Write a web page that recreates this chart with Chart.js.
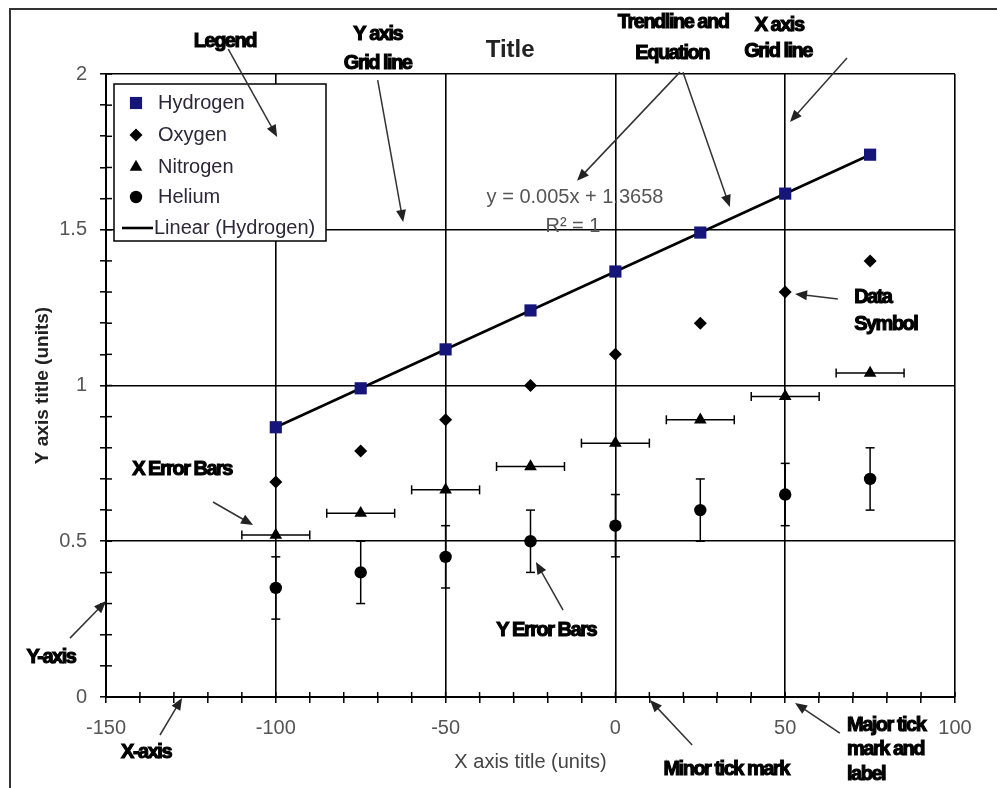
<!DOCTYPE html>
<html lang="en">
<head>
  <meta charset="UTF-8">
  <title>Anatomy of a Chart</title>
  <script src="https://cdn.jsdelivr.net/npm/chart.js"></script>
  <style>
    body { margin: 0; background: #fff; }
    #wrap { width: 997px; height: 788px; }
  </style>
</head>
<body>

<div id="wrap">
  <canvas id="anatomy" width="997" height="788"></canvas>
</div>

<script>
  // values
  const xValues = [-100, -75, -50, -25, 0, 25, 50, 75];
  const hydrogen = [0.866, 0.991, 1.116, 1.241, 1.366, 1.491, 1.616, 1.741];
  const oxygen = [0.69, 0.79, 0.89, 1.0, 1.1, 1.2, 1.3, 1.4];
  const nitrogen = [0.52, 0.59, 0.665, 0.74, 0.815, 0.89, 0.965, 1.04];
  const helium = [0.35, 0.4, 0.45, 0.5, 0.55, 0.6, 0.65, 0.7];
  const nitrogenXErr = [10, 10, 10, 10, 10, 10, 10, 10];
  const heliumYErr = [0.1, 0.1, 0.1, 0.1, 0.1, 0.1, 0.1, 0.1];
  const trendX = [-100, 75];
  const trendY = [0.8658, 1.7408];
  const xTickLabels = [-150, -100, -50, 0, 50, 100];
  const yTickLabels = [0, 0.5, 1, 1.5, 2];

  const toPoints = (xs, ys) => xs.map((x, i) => ({x: x, y: ys[i]}));
  const isLabelled = (list, v) => list.some(t => Math.abs(t - v) < 1e-6);

  // callouts, placed in data units so they follow the scales
  const notes = [
    {lines: [['Legend', -115, 2.105]], from: [-114, 2.08], to: [-99.6, 1.798]},
    {lines: [['Y axis', -70, 2.128], ['Grid line', -70, 2.035]], from: [-70, 1.98], to: [-62.5, 1.525]},
    {lines: [['Trendline and', 17, 2.164], ['Equation', 16.7, 2.067]], from: [19, 2.006], to: [-11.3, 1.657]},
    {lines: [], from: [19.9, 2.006], to: [33.7, 1.573]},
    {lines: [['X axis', 48.2, 2.157], ['Grid line', 47.9, 2.071]], from: [68.2, 2.051], to: [51.4, 1.846]},
    {lines: [['Data', 70.3, 1.281], ['Symbol', 70.3, 1.197]], align: 'left', from: [65.5, 1.278], to: [52.9, 1.294]},
    {lines: [['X Error Bars', -127.6, 0.729]], from: [-118.5, 0.626], to: [-106.7, 0.552]},
    {lines: [['Y Error Bars', -20.4, 0.215]], from: [-15.4, 0.279], to: [-23.4, 0.433]},
    {lines: [['Y-axis', -166.2, 0.128]], from: [-160.6, 0.189], to: [-150, 0.308]},
    {lines: [['X-axis', -138.2, -0.177]], from: [-134.1, -0.122], to: [-127.6, -0.003]},
    {lines: [['Minor tick mark', 32.6, -0.234]], from: [22.6, -0.154], to: [10.2, -0.01]},
    {lines: [['Major tick', 68.2, -0.09], ['mark and', 68.2, -0.17], ['label', 68.2, -0.25]], align: 'left',
     from: [66.1, -0.116], to: [52.9, -0.019]}
  ];

  const FONT = '"Liberation Sans", Arial, sans-serif';
  Chart.defaults.font.family = FONT;

  function arrow(ctx, x1, y1, x2, y2) {
    const ang = Math.atan2(y2 - y1, x2 - x1);
    const len = 12, half = 5;
    ctx.beginPath();
    ctx.moveTo(x1, y1);
    ctx.lineTo(x2 - Math.cos(ang) * len * 0.8, y2 - Math.sin(ang) * len * 0.8);
    ctx.stroke();
    ctx.beginPath();
    ctx.moveTo(x2, y2);
    ctx.lineTo(x2 - Math.cos(ang) * len - Math.sin(ang) * half, y2 - Math.sin(ang) * len + Math.cos(ang) * half);
    ctx.lineTo(x2 - Math.cos(ang) * len + Math.sin(ang) * half, y2 - Math.sin(ang) * len - Math.cos(ang) * half);
    ctx.closePath();
    ctx.fill();
  }

  const errorBars = {
    id: 'errorBars',
    beforeDatasetsDraw(chart) {
      const {ctx, scales: {x, y}} = chart;
      ctx.save();
      ctx.strokeStyle = '#000';
      ctx.lineWidth = 1.5;
      const seg = (a, b, c, d) => { ctx.beginPath(); ctx.moveTo(a, b); ctx.lineTo(c, d); ctx.stroke(); };
      chart.data.datasets.forEach(ds => {
        ds.data.forEach((p, i) => {
          const px = x.getPixelForValue(p.x), py = y.getPixelForValue(p.y);
          if (ds.xErr) {
            const a = x.getPixelForValue(p.x - ds.xErr[i]), b = x.getPixelForValue(p.x + ds.xErr[i]);
            seg(a, py, b, py); seg(a, py - 4.5, a, py + 4.5); seg(b, py - 4.5, b, py + 4.5);
          }
          if (ds.yErr) {
            const a = y.getPixelForValue(p.y - ds.yErr[i]), b = y.getPixelForValue(p.y + ds.yErr[i]);
            seg(px, a, px, b); seg(px - 4.5, a, px + 4.5, a); seg(px - 4.5, b, px + 4.5, b);
          }
        });
      });
      // inner half of every tick mark (Excel style "cross" ticks)
      x.ticks.forEach(t => {
        const px = x.getPixelForValue(t.value);
        seg(px, chart.chartArea.bottom, px, chart.chartArea.bottom - 5);
      });
      y.ticks.forEach(t => {
        const py = y.getPixelForValue(t.value);
        seg(chart.chartArea.left, py, chart.chartArea.left + 6, py);
      });
      ctx.restore();
    }
  };

  const decorations = {
    id: 'decorations',
    afterDraw(chart) {
      const {ctx, chartArea: area, scales: {x, y}} = chart;
      ctx.save();

      // outer frame
      ctx.strokeStyle = '#333';
      ctx.lineWidth = 2;
      ctx.beginPath();
      ctx.moveTo(10, chart.height);
      ctx.lineTo(10, 9);
      ctx.lineTo(chart.width, 9);
      ctx.stroke();

      // title
      ctx.fillStyle = '#222';
      ctx.font = 'bold 24px ' + FONT;
      ctx.textAlign = 'center';
      ctx.textBaseline = 'middle';
      ctx.fillText('Title', x.getPixelForValue(-31), y.getPixelForValue(2.077));

      // trendline equation
      ctx.fillStyle = '#555';
      ctx.font = '20px ' + FONT;
      ctx.fillText('y = 0.005x + 1.3658', x.getPixelForValue(-11.9), y.getPixelForValue(1.605));
      ctx.fillText('R\u00B2 = 1', x.getPixelForValue(-12.5), y.getPixelForValue(1.509));

      // legend box
      const lx = area.left + 8, ly = area.top + 10, lw = 212, lh = 157;
      ctx.fillStyle = '#fff';
      ctx.fillRect(lx, ly, lw, lh);
      ctx.strokeStyle = '#000';
      ctx.lineWidth = 1.5;
      ctx.strokeRect(lx, ly, lw, lh);
      ctx.textAlign = 'left';
      ctx.font = '20px ' + FONT;
      const rows = [19, 51, 83, 113, 144];
      chart.data.datasets.forEach((ds, i) => {
        const ry = ly + rows[i];
        ctx.fillStyle = ds.backgroundColor;
        ctx.strokeStyle = ds.borderColor;
        if (ds.showLine) {
          ctx.lineWidth = ds.borderWidth;
          ctx.beginPath();
          ctx.moveTo(lx + 8, ry);
          ctx.lineTo(lx + 39, ry);
          ctx.stroke();
        } else {
          Chart.helpers.drawPoint(ctx, {pointStyle: ds.pointStyle, radius: ds.pointRadius,
            borderWidth: ds.pointBorderWidth, rotation: 0}, lx + 22, ry);
        }
        ctx.fillStyle = '#2c2838';
        ctx.fillText(ds.label, ds.showLine ? lx + 40 : lx + 44, ry);
      });

      // callouts
      ctx.fillStyle = '#000';
      ctx.strokeStyle = '#000';
      ctx.font = 'bold 20px ' + FONT;
      ctx.letterSpacing = '-1.5px';
      notes.forEach(n => {
        ctx.textAlign = n.align || 'center';
        ctx.lineWidth = 1.1;
        n.lines.forEach(([t, vx, vy]) => {
          const px = x.getPixelForValue(vx), py = y.getPixelForValue(vy);
          ctx.fillText(t, px, py);
          ctx.strokeText(t, px, py);
        });
      });
      ctx.letterSpacing = '0px';
      ctx.strokeStyle = '#333';
      ctx.fillStyle = '#222';
      ctx.lineWidth = 1.5;
      notes.forEach(n => {
        arrow(ctx, x.getPixelForValue(n.from[0]), y.getPixelForValue(n.from[1]),
          x.getPixelForValue(n.to[0]), y.getPixelForValue(n.to[1]));
      });
      ctx.restore();
    }
  };

  const ctx = document.getElementById('anatomy').getContext('2d');
  const anatomyChart = new Chart(ctx, {
    type: 'scatter',
    data: {
      datasets: [
        {
          label: 'Hydrogen',
          data: toPoints(xValues, hydrogen),
          pointStyle: 'rect', pointRadius: 8.6, pointBorderWidth: 0,
          backgroundColor: '#15157a', borderColor: '#15157a', order: 1
        },
        {
          label: 'Oxygen',
          data: toPoints(xValues, oxygen),
          pointStyle: 'rectRot', pointRadius: 6.5, pointBorderWidth: 0,
          backgroundColor: '#000', borderColor: '#000', order: 1
        },
        {
          label: 'Nitrogen',
          data: toPoints(xValues, nitrogen),
          xErr: nitrogenXErr,
          pointStyle: 'triangle', pointRadius: 7.3, pointBorderWidth: 0,
          backgroundColor: '#000', borderColor: '#000', order: 1
        },
        {
          label: 'Helium',
          data: toPoints(xValues, helium),
          yErr: heliumYErr,
          pointStyle: 'circle', pointRadius: 6.2, pointBorderWidth: 0,
          backgroundColor: '#000', borderColor: '#000', order: 1
        },
        {
          label: 'Linear (Hydrogen)',
          data: toPoints(trendX, trendY),
          showLine: true, pointRadius: 0, borderWidth: 2.6,
          backgroundColor: '#000', borderColor: '#000', order: 2
        }
      ]
    },
    options: {
      responsive: false,
      animation: false,
      layout: { padding: { top: 74, right: 42, left: 0, bottom: 0 } },
      plugins: {
        legend: { display: false },
        tooltip: { enabled: false }
      },
      scales: {
        x: {
          type: 'linear',
          min: -150, max: 100,
          afterFit: s => { s.height = 91; },
          border: { display: true, color: '#000', width: 2 },
          grid: {
            color: c => isLabelled(xTickLabels, c.tick.value) ? '#000' : 'rgba(0,0,0,0)',
            lineWidth: 1.6,
            tickColor: '#000', tickWidth: 1.5, tickLength: 6
          },
          ticks: {
            stepSize: 10,
            autoSkip: false,
            maxRotation: 0,
            padding: 13,
            color: '#555',
            font: { size: 20 },
            callback: v => isLabelled(xTickLabels, v) ? String(v) : ''
          },
          title: {
            display: true,
            text: 'X axis title (units)',
            color: '#444',
            font: { size: 20 },
            padding: { top: 0, bottom: 14 }
          }
        },
        y: {
          type: 'linear',
          min: 0, max: 2,
          afterFit: s => { s.width = 106; },
          border: { display: true, color: '#000', width: 2 },
          grid: {
            color: c => isLabelled(yTickLabels, c.tick.value) ? '#000' : 'rgba(0,0,0,0)',
            lineWidth: 1.6,
            tickColor: '#000', tickWidth: 1.5, tickLength: 6
          },
          ticks: {
            stepSize: 0.1,
            autoSkip: false,
            padding: 13,
            color: '#555',
            font: { size: 20 },
            callback: v => isLabelled(yTickLabels, v) ? String(v) : ''
          },
          title: {
            display: true,
            text: 'Y axis title (units)',
            color: '#222',
            font: { size: 19, weight: 'bold' },
            padding: { top: 31, bottom: 0 }
          }
        }
      }
    },
    plugins: [errorBars, decorations]
  });
</script>

</body>
</html>
